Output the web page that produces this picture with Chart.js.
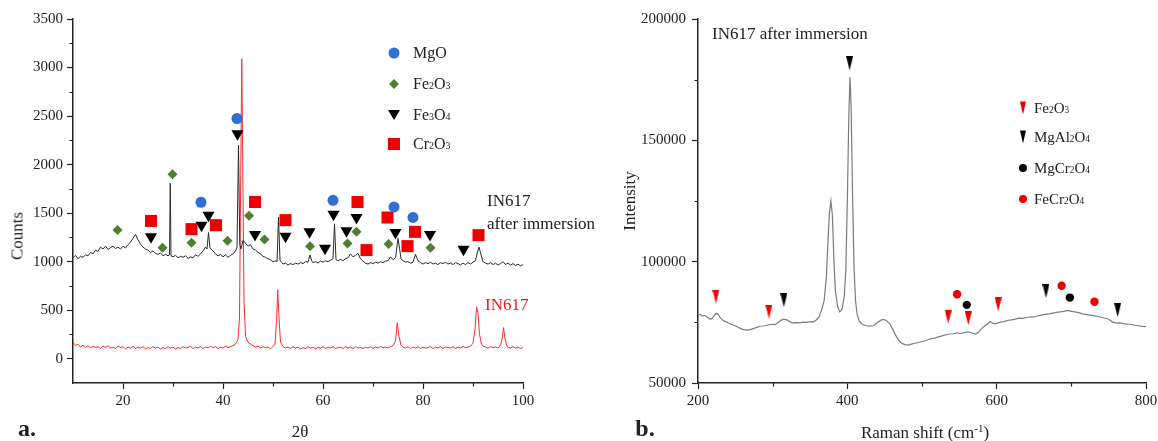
<!DOCTYPE html>
<html>
<head>
<meta charset="utf-8">
<script src="https://cdn.jsdelivr.net/npm/chart.js@4.4.1/dist/chart.umd.min.js"></script>
<style>
  body { margin: 0; background: #fff; }
  #figure { position: relative; width: 1158px; height: 441px; font-family: 'Liberation Serif', 'Times New Roman', serif; color: #222; }
  canvas { position: absolute; top: 0; }
  .txt { position: absolute; white-space: nowrap; line-height: 1; }
  .c { transform: translate(-50%, -50%); }
  .l { transform: translateY(-50%); }
  .v { transform: translate(-50%, -50%) rotate(-90deg); }
  .s { font-size: 0.62em; }
  .mk { position: absolute; transform: translate(-50%, -50%); }
  .dot { width: 11px; height: 11px; border-radius: 50%; }
  .dia { width: 7px; height: 7px; transform: translate(-50%, -50%) rotate(45deg); }
  .tri { width: 0; height: 0; border-left: 6px solid transparent; border-right: 6px solid transparent; border-top: 10px solid #000; }
  .sq { width: 12px; height: 12px; }
  .ntri { width: 0; height: 0; border-left: 3px solid transparent; border-right: 3px solid transparent; border-top: 13px solid; }
  .sdot { width: 8px; height: 8px; border-radius: 50%; }
</style>
</head>
<body>
<div id="figure">
  <canvas id="xrdChart" width="580" height="441" style="left:0"></canvas>
  <canvas id="ramanChart" width="578" height="441" style="left:580px"></canvas>

  <!-- panel a texts -->
  <div class="txt v" style="left:17px;top:236px;font-size:17px">Counts</div>
  <div class="txt c" style="left:300px;top:431px;font-size:17px">2θ</div>
  <div class="txt c" style="left:27px;top:428px;font-size:24px;font-weight:bold">a.</div>
  <div class="txt l" style="left:487px;top:200px;font-size:17px">IN617</div>
  <div class="txt l" style="left:487px;top:223px;font-size:17px">after immersion</div>
  <div class="txt l" style="left:485px;top:304px;font-size:17px;color:#f01818">IN617</div>

  <div class="mk dot" style="left:394px;top:53px;background:#2f6fd1"></div>
  <div class="txt l" style="left:413px;top:53px;font-size:16px">MgO</div>
  <div class="mk dia" style="left:394px;top:84px;background:#4f7e2e"></div>
  <div class="txt l" style="left:413px;top:84px;font-size:16px">Fe<span class="s">2</span>O<span class="s">3</span></div>
  <div class="mk tri" style="left:394px;top:115px"></div>
  <div class="txt l" style="left:413px;top:115px;font-size:16px">Fe<span class="s">3</span>O<span class="s">4</span></div>
  <div class="mk sq" style="left:394px;top:144px;background:#ee0000"></div>
  <div class="txt l" style="left:413px;top:144px;font-size:16px">Cr<span class="s">2</span>O<span class="s">3</span></div>

  <!-- panel b texts -->
  <div class="txt v" style="left:629px;top:201px;font-size:17px">Intensity</div>
  <div class="txt c" style="left:925px;top:432px;font-size:17px">Raman shift (cm<sup style="font-size:0.65em">-1</sup>)</div>
  <div class="txt c" style="left:645px;top:428px;font-size:24px;font-weight:bold">b.</div>
  <div class="txt l" style="left:712px;top:33px;font-size:17px">IN617 after immersion</div>

  <div class="mk ntri" style="left:1023px;top:108px;border-top-color:#ee0000"></div>
  <div class="txt l" style="left:1034px;top:108px;font-size:15px">Fe<span class="s">2</span>O<span class="s">3</span></div>
  <div class="mk ntri" style="left:1023px;top:137px;border-top-color:#000"></div>
  <div class="txt l" style="left:1034px;top:137px;font-size:15px">MgAl<span class="s">2</span>O<span class="s">4</span></div>
  <div class="mk sdot" style="left:1023px;top:168px;background:#000"></div>
  <div class="txt l" style="left:1034px;top:168px;font-size:15px">MgCr<span class="s">2</span>O<span class="s">4</span></div>
  <div class="mk sdot" style="left:1023px;top:199px;background:#ee0000"></div>
  <div class="txt l" style="left:1034px;top:199px;font-size:15px">FeCr<span class="s">2</span>O<span class="s">4</span></div>
</div>

<script>
// ---- XRD data: [2θ, counts] ----
const in617After = [
  [10,1040],[10.5,1065],[11,1030],[11.5,1055],[12,1045],[12.5,1070],[13,1060],[13.5,1095],[14,1080],[14.5,1120],
  [15,1105],[15.5,1150],[16,1130],[16.5,1160],[17,1125],[17.5,1145],[18,1160],[18.5,1135],[19,1150],[19.5,1130],
  [20,1160],[20.5,1140],[21,1175],[21.5,1200],[22,1240],[22.5,1280],[23,1225],[23.5,1180],[24,1150],[24.5,1130],
  [25,1120],[25.5,1095],[26,1110],[26.5,1085],[27,1075],[27.5,1090],[28,1060],[28.5,1075],[29,1060],[29.3,1070],
  [29.45,1810],[29.6,1060],[30,1050],[30.5,1065],[31,1040],[31.5,1055],[32,1045],[32.5,1060],[33,1035],[33.5,1050],
  [34,1040],[34.5,1070],[35,1055],[35.5,1080],[36,1110],[36.5,1150],[36.8,1130],[37.1,1300],[37.4,1140],[38,1110],
  [38.5,1080],[39,1060],[39.5,1075],[40,1050],[40.5,1070],[41,1045],[41.5,1065],[42,1080],[42.5,1110],[42.8,1150],
  [43.1,2200],[43.35,1180],[43.6,1130],[44,1220],[44.5,1190],[45,1160],[45.5,1175],[46,1130],[46.5,1120],[47,1095],
  [47.5,1080],[48,1055],[48.5,1045],[49,1030],[49.5,1020],[50,1000],[50.5,1010],[50.8,1000],[51.1,1460],[51.4,1010],
  [51.8,990],[52,975],[52.5,985],[53,965],[53.5,980],[54,970],[54.5,985],[55,975],[55.5,990],[56,980],
  [56.5,1000],[57,995],[57.4,1070],[57.8,1000],[58,990],[58.5,1000],[59,985],[59.5,1005],[60,995],[60.5,1010],
  [61,1000],[61.5,1015],[62,1030],[62.3,1390],[62.6,1020],[63,1010],[63.5,1025],[64,1010],[64.5,1030],[65,1040],
  [65.5,1080],[66,1050],[66.5,1065],[67,1085],[67.5,1030],[68,1005],[68.5,985],[69,975],[69.5,990],[70,980],
  [70.5,995],[71,985],[71.5,1000],[72,990],[72.5,1005],[73,1010],[73.5,1050],[74,1020],[74.5,1040],[75,1240],
  [75.3,1140],[75.6,1030],[76,1010],[76.5,995],[77,1000],[77.5,985],[78,995],[78.5,1075],[79,1010],[79.5,990],
  [80,975],[80.5,990],[81,980],[81.5,995],[82,975],[82.5,985],[83,970],[83.5,990],[84,980],[84.5,995],
  [85,975],[85.5,985],[86,970],[86.5,990],[87,980],[87.5,965],[88,985],[88.5,970],[89,990],[89.5,975],
  [90,995],[90.5,1010],[90.9,1100],[91.2,1150],[91.5,1090],[92,1000],[92.5,985],[93,975],[93.5,990],[94,970],
  [94.5,985],[95,965],[95.5,980],[96,1000],[96.5,970],[97,985],[97.5,965],[98,980],[98.5,960],[99,975],
  [99.5,955],[100,970]
];
const in617 = [
  [10,170],[10.5,135],[11,150],[11.5,120],[12,140],[12.5,115],[13,135],[13.5,110],[14,130],[14.5,115],
  [15,125],[15.5,105],[16,130],[16.5,115],[17,135],[17.5,110],[18,120],[18.5,105],[19,130],[19.5,115],
  [20,125],[20.5,100],[21,120],[21.5,110],[22,130],[22.5,105],[23,120],[23.5,110],[24,125],[24.5,100],
  [25,115],[25.5,105],[26,125],[26.5,110],[27,120],[27.5,100],[28,115],[28.5,105],[29,125],[29.5,110],
  [30,120],[30.5,100],[31,115],[31.5,105],[32,125],[32.5,110],[33,115],[33.5,130],[34,105],[34.5,120],
  [35,110],[35.5,125],[36,105],[36.5,120],[37,110],[37.5,130],[38,115],[38.5,125],[39,105],[39.5,120],
  [40,110],[40.5,130],[41,115],[41.5,125],[42,135],[42.5,150],[43,200],[43.3,420],[43.55,1900],[43.75,3090],
  [43.95,2000],[44.2,600],[44.5,230],[45,170],[45.5,150],[46,135],[46.5,120],[47,130],[47.5,110],[48,125],
  [48.5,115],[49,120],[49.5,105],[50,125],[50.4,150],[50.7,380],[50.95,710],[51.2,420],[51.5,170],[52,125],
  [52.5,110],[53,120],[53.5,105],[54,125],[54.5,110],[55,120],[55.5,100],[56,115],[56.5,105],[57,125],
  [57.5,110],[58,120],[58.5,100],[59,115],[59.5,110],[60,125],[60.5,105],[61,120],[61.5,110],[62,125],
  [62.5,105],[63,115],[63.5,120],[64,105],[64.5,125],[65,110],[65.5,120],[66,105],[66.5,125],[67,110],
  [67.5,115],[68,105],[68.5,120],[69,110],[69.5,125],[70,105],[70.5,120],[71,110],[71.5,125],[72,115],
  [72.5,120],[73,110],[73.5,125],[74,135],[74.5,180],[74.85,370],[75.2,230],[75.6,140],[76,120],[76.5,110],
  [77,125],[77.5,105],[78,120],[78.5,110],[79,125],[79.5,105],[80,120],[80.5,110],[81,115],[81.5,125],
  [82,105],[82.5,120],[83,110],[83.5,125],[84,105],[84.5,120],[85,115],[85.5,110],[86,125],[86.5,105],
  [87,120],[87.5,110],[88,125],[88.5,115],[89,120],[89.5,130],[90,160],[90.4,300],[90.7,535],[91,470],
  [91.3,250],[91.7,150],[92,130],[92.5,120],[93,110],[93.5,125],[94,115],[94.5,120],[95,110],[95.5,140],
  [95.8,200],[96.1,320],[96.4,210],[96.8,130],[97,120],[97.5,110],[98,125],[98.5,110],[99,120],[99.5,105],
  [100,115]
];
const mgoPeaks = [[35.6,1612],[42.8,2475],[62,1632],[74.2,1564],[78,1456]];
const fe2o3Peaks = [[18.9,1325],[27.9,1143],[29.9,1900],[33.7,1195],[40.9,1215],[45.2,1472],[48.3,1229],
  [57.4,1160],[64.9,1188],[66.7,1307],[73.1,1181],[81.5,1143]];
const fe3o4Peaks = [[25.6,1256],[35.7,1376],[37.1,1479],[42.9,2318],[46.4,1281],[52.5,1263],[57.3,1308],
  [60.4,1137],[62.1,1489],[64.7,1318],[66.7,1455],[74.5,1301],[81.4,1281],[88.1,1127]];
const cr2o3Peaks = [[25.6,1420],[33.7,1335],[38.6,1376],[46.4,1615],[52.5,1428],[66.9,1615],[68.7,1119],
  [72.9,1455],[76.9,1160],[78.4,1307],[91.1,1273]];
const xrdXTicks = [20, 40, 60, 80, 100];
const xrdXMinor = [30, 50, 70, 90];
const xrdYTicks = [0, 500, 1000, 1500, 2000, 2500, 3000, 3500];
const xrdYMinor = [250, 750, 1250, 1750, 2250, 2750, 3250];

// ---- Raman data: [shift cm-1, intensity] ----
const ramanSpectrum = [
  [200,78000],[203,78300],[206,77600],[209,77900],[212,77200],[215,76500],[218,76300],[221,77500],[224,78700],[227,78300],
  [230,76800],[234,75700],[238,75200],[242,74500],[247,73900],[252,73300],[256,72600],[260,72100],[265,71800],[270,72000],
  [274,72400],[279,72900],[283,73400],[287,73500],[291,73700],[295,74000],[299,74200],[303,74100],[307,74800],[311,75800],
  [315,76300],[319,76000],[323,75300],[327,74700],[331,74900],[336,74800],[340,75100],[345,75000],[350,75300],[354,75200],
  [358,75900],[362,77200],[366,80500],[369,84000],[372,94000],[374,108000],[376,120000],[378,125000],[380,119000],[382,101000],
  [384,88000],[387,81500],[390,79300],[393,80500],[396,86000],[398,97000],[400,125000],[402,160000],[403.5,176000],[405,165000],
  [407,128000],[409,97000],[411,84000],[413,78500],[416,75500],[420,74200],[425,73600],[430,73400],[435,73600],[440,74800],
  [445,75900],[449,76200],[453,75600],[457,74300],[461,72000],[465,69500],[469,67500],[473,66400],[477,65800],[482,65600],
  [487,66100],[492,66500],[497,66900],[502,67200],[507,67700],[512,68300],[517,68500],[522,69000],[527,69400],[532,69900],
  [537,70200],[542,70300],[547,70700],[552,70400],[557,70800],[562,71100],[567,70600],[572,70200],[576,71000],[580,72500],
  [584,73500],[588,74400],[591,75300],[594,74700],[598,74400],[602,74800],[606,75200],[610,75300],[615,75800],[620,76000],
  [625,76300],[630,76700],[635,76600],[640,77000],[645,77300],[650,77200],[655,77600],[660,78000],[665,78300],[670,78500],
  [675,78800],[680,79100],[685,79300],[690,79500],[695,79900],[700,79500],[705,79300],[710,79000],[715,78500],[720,78200],
  [725,78000],[730,77800],[735,77500],[740,77100],[745,76700],[750,76300],[755,75200],[760,74700],[765,74800],[770,74500],
  [775,74300],[780,74200],[785,73800],[790,73600],[795,73300],[800,73200]
];
const ramanFe2o3 = [[224,85600],[295,79400],[535,77300],[562,76700],[602,82400]];
const ramanMgAl2o4 = [[315,84200],[403,181800],[666,87900],[762,80100]];
const ramanMgCr2o4 = [[560,82200],[698,85200]];
const ramanFeCr2o4 = [[547,86600],[687,90100],[731,83500]];
const ramanXTicks = [200, 400, 600, 800];
const ramanXMinor = [300, 500, 700];
const ramanYTicks = [50000, 100000, 150000, 200000];
const ramanYMinor = [75000, 125000, 175000];

const FONT = 'Liberation Serif';
const INK = '#222';
const pts = arr => arr.map(([x, y]) => ({x, y}));

// short outward minor ticks, placed with the chart scales
const minorTicks = {
    id: 'minorTicks',
    afterDraw(chart, args, opts) {
        const {ctx, chartArea, scales} = chart;
        ctx.save();
        ctx.strokeStyle = INK;
        ctx.lineWidth = 1.2;
        ctx.beginPath();
        (opts.x || []).forEach(v => {
            const px = Math.round(scales.x.getPixelForValue(v)) + 0.5;
            ctx.moveTo(px, chartArea.bottom);
            ctx.lineTo(px, chartArea.bottom + 3.5);
        });
        (opts.y || []).forEach(v => {
            const py = Math.round(scales.y.getPixelForValue(v)) + 0.5;
            ctx.moveTo(chartArea.left, py);
            ctx.lineTo(chartArea.left - 3.5, py);
        });
        ctx.stroke();
        ctx.restore();
    }
};

function narrowTriangle(color) {
    const c = document.createElement('canvas');
    c.width = 7;
    c.height = 14;
    const g = c.getContext('2d');
    g.fillStyle = color;
    g.beginPath();
    g.moveTo(0, 0);
    g.lineTo(7, 0);
    g.lineTo(3.5, 14);
    g.closePath();
    g.fill();
    return c;
}

function makeAxis(min, max, ticks, fit, tickPad) {
    return {
        type: 'linear',
        min: min,
        max: max,
        afterBuildTicks: s => { s.ticks = ticks.map(v => ({value: v})); },
        afterFit: fit,
        grid: { drawOnChartArea: false, drawTicks: true, tickLength: 6, color: INK, tickWidth: 1.2 },
        border: { display: true, color: INK, width: 1.5 },
        ticks: {
            color: INK,
            font: { family: FONT, size: 15 },
            padding: tickPad,
            maxRotation: 0,
            autoSkip: false,
            callback: v => String(v)
        }
    };
}

function makeChart(id, cfg) {
    return new Chart(document.getElementById(id), {
        type: 'scatter',
        data: { datasets: cfg.datasets },
        options: {
            responsive: false,
            animation: false,
            devicePixelRatio: 1,
            events: [],
            layout: { padding: { left: 0, top: 19, right: cfg.rightPad, bottom: 0 } },
            plugins: {
                legend: { display: false },
                tooltip: { enabled: false },
                minorTicks: { x: cfg.xMinor, y: cfg.yMinor }
            },
            scales: {
                x: makeAxis(cfg.xRange[0], cfg.xRange[1], cfg.xTicks, s => {
                    s.height = 58; s.paddingLeft = 0; s.paddingRight = 0;
                }, 3),
                y: makeAxis(cfg.yRange[0], cfg.yRange[1], cfg.yTicks, s => {
                    s.width = cfg.yWidth; s.paddingTop = 0; s.paddingBottom = 0;
                }, cfg.yPad)
            }
        },
        plugins: [minorTicks]
    });
}

const marker = (label, data, style, radius, color, extra) => Object.assign({
    label: label,
    data: pts(data),
    pointStyle: style,
    pointRadius: radius,
    pointBackgroundColor: color,
    backgroundColor: color,
    pointBorderWidth: 0,
    borderWidth: 0
}, extra || {});

const trace = (label, data, color, width) => ({
    label: label,
    data: pts(data),
    showLine: true,
    pointRadius: 0,
    borderColor: color,
    borderWidth: width,
    tension: 0
});

makeChart('xrdChart', {
    rightPad: 57,
    yWidth: 73,
    yPad: 4,
    xRange: [10, 100],
    yRange: [-250, 3500],
    xTicks: xrdXTicks,
    yTicks: xrdYTicks,
    xMinor: xrdXMinor,
    yMinor: xrdYMinor,
    datasets: [
        marker('MgO', mgoPeaks, 'circle', 5.5, '#2f6fd1'),
        marker('Fe2O3', fe2o3Peaks, 'rectRot', 5, '#4f7e2e'),
        marker('Fe3O4', fe3o4Peaks, 'triangle', 7, '#000', { pointRotation: 180 }),
        marker('Cr2O3', cr2o3Peaks, 'rect', 8.5, '#ee0000'),
        trace('IN617 after immersion', in617After, '#2a2a2a', 1),
        trace('IN617', in617, '#ff2a2a', 1)
    ]
});

makeChart('ramanChart', {
    rightPad: 12,
    yWidth: 118,
    yPad: 6,
    xRange: [200, 800],
    yRange: [50000, 200000],
    xTicks: ramanXTicks,
    yTicks: ramanYTicks,
    xMinor: ramanXMinor,
    yMinor: ramanYMinor,
    datasets: [
        marker('Fe2O3', ramanFe2o3, narrowTriangle('#ee0000'), 7, '#ee0000'),
        marker('MgAl2O4', ramanMgAl2o4, narrowTriangle('#000'), 7, '#000'),
        marker('MgCr2O4', ramanMgCr2o4, 'circle', 4.2, '#000'),
        marker('FeCr2O4', ramanFeCr2o4, 'circle', 4.2, '#ee0000'),
        trace('Raman spectrum', ramanSpectrum, '#7c7c7c', 1.2)
    ]
});
</script>
</body>
</html>
